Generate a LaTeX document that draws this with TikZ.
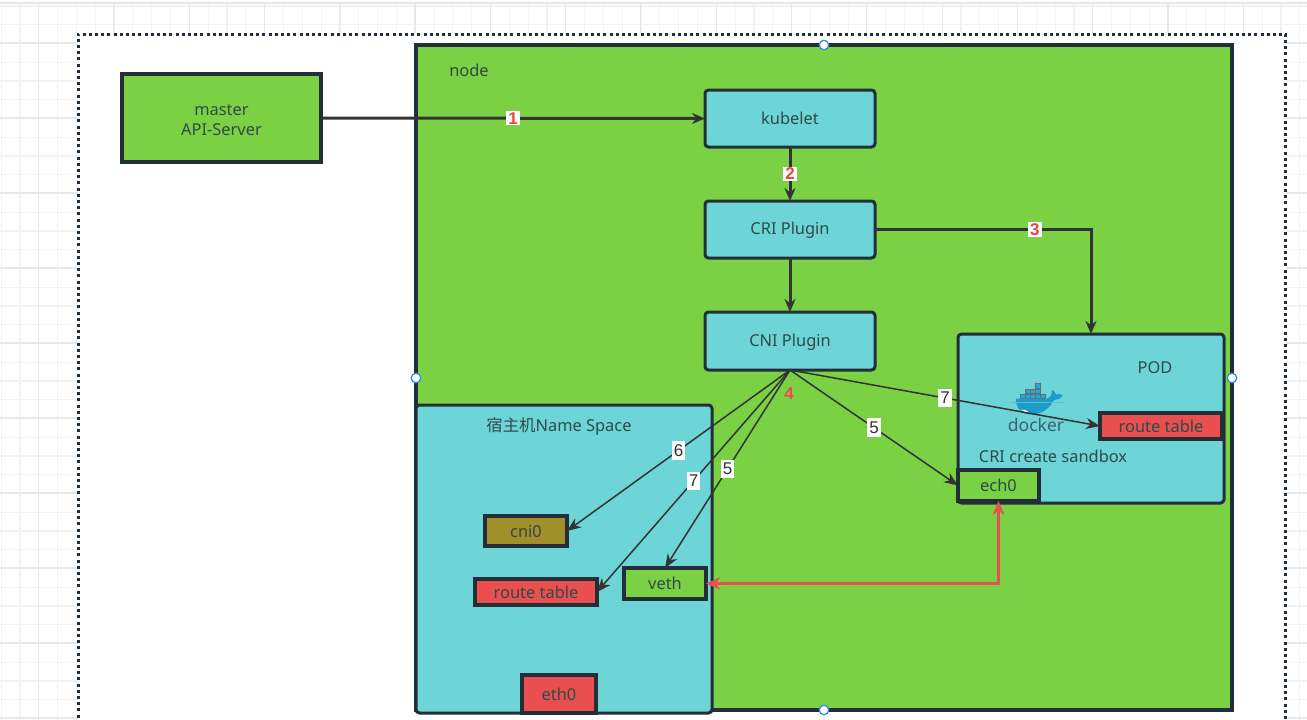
\documentclass[tikz,border=0pt]{standalone}
\usepackage{fontspec}
\setmainfont{Noto Sans}
\newfontfamily\cjk{Noto Sans CJK SC}
\newfontfamily\digitfont{Liberation Sans}
\usetikzlibrary{arrows.meta,calc}
\definecolor{leaf}{HTML}{7AD143}
\definecolor{aqua}{HTML}{6DD5D8}
\definecolor{brick}{HTML}{E94F4F}
\definecolor{olive}{HTML}{A18F2A}
\definecolor{ink}{HTML}{232F38}
\definecolor{wire}{HTML}{333333}
\definecolor{script}{HTML}{2F4A4A}
\definecolor{gridminor}{HTML}{F1F2F3}
\definecolor{gridmajor}{HTML}{E6E7E9}
\definecolor{whale}{HTML}{1D9BC9}
\definecolor{crate}{HTML}{27A9D6}
\definecolor{wordmark}{HTML}{3F5F6E}
\definecolor{handle}{HTML}{2E8BEA}
\newcommand{\firstline}{\rule[-1.5pt]{0pt}{15.5pt}}
\tikzset{
  x=1pt,y=-1pt,
  box/.style={draw=ink,line width=3.05pt,rectangle,inner sep=0pt,outer sep=0pt,
    text=script,font=\fontsize{16.4}{20}\selectfont,align=center,execute at begin node=\firstline},
  soft/.style={box,line width=3pt,rounded corners=3.5pt},
  caption/.style={inner sep=0pt,outer sep=0pt,text=script,font=\fontsize{16.4}{20}\selectfont,execute at begin node=\firstline},
  heavy/.style={draw=wire,line width=3pt,-{Stealth[length=13pt,width=11pt]}},
  fine/.style={draw=wire,line width=1.5pt,-{Stealth[length=14pt,width=11pt]}},
  redlink/.style={draw=brick,line width=3pt,{Stealth[length=14pt,width=12pt]}-{Stealth[length=14pt,width=12pt]}},
  steplabel/.style={fill=white,inner xsep=2pt,inner ysep=1pt,text=brick!85!red,font=\digitfont\fontsize{17}{17}\selectfont\bfseries},
  numlabel/.style={fill=white,inner xsep=2pt,inner ysep=3.5pt,text=black!80,font=\digitfont\fontsize{17}{17}\selectfont},
  grip/.style={circle,draw=handle,fill=white,line width=1.2pt,minimum size=9.5pt,inner sep=0pt}
}
\begin{document}
\begin{tikzpicture}
\clip (0,0) rectangle (1307,720);
\fill[white] (0,0) rectangle (1307,720);

% page grid
\foreach \i in {0,...,70}{
  \draw[gridminor,line width=1.1pt] ({1.2+18.82*\i},3) -- ({1.2+18.82*\i},720);
}
\foreach \j in {0,...,37}{
  \draw[gridminor,line width=1.1pt] (0,{6+18.75*\j}) -- (1307,{6+18.75*\j});
}
\foreach \i in {0,...,17}{
  \draw[gridmajor,line width=1.1pt] ({38.5+75.3*\i},3) -- ({38.5+75.3*\i},720);
}
\foreach \j in {0,...,9}{
  \draw[gridmajor,line width=1.1pt] (0,{43+75*\j}) -- (1307,{43+75*\j});
}
\draw[gridmajor,line width=1.2pt] (0,3) -- (1307,3);

% page frame
\fill[white] (78,34) rectangle (1285.5,730);
\draw[ink,line width=3pt,dash pattern=on 3pt off 3.2pt] (78,730) -- (78,34) -- (1285.5,34) -- (1285.5,730);

% containers
\node[box,fill=leaf,minimum width=816pt,minimum height=665pt] (nodebox) at (824,377.5) {};
\node[caption] (nodename) at (469,70.5) {node};
\node[box,fill=leaf,minimum width=199pt,minimum height=88pt] (master) at (221.5,118) {\rule{0pt}{16pt}master\\API-Server};

% components
\node[soft,fill=aqua,minimum width=170pt,minimum height=57pt] (kubelet) at (790,118.5) {kubelet};
\node[soft,fill=aqua,minimum width=170pt,minimum height=57pt] (cri) at (790,229.5) {CRI Plugin};
\node[soft,fill=aqua,minimum width=170pt,minimum height=58pt] (cnimod) at (790,341) {CNI Plugin};

% pod
\node[soft,fill=aqua,minimum width=266pt,minimum height=169pt] (pod) at (1091,418.5) {};
\node[caption] (podname) at (1155,367) {POD};
\node[caption] (sandbox) at (1053,456) {CRI create sandbox};
\node[box,fill=brick,minimum width=122pt,minimum height=26pt] (podroute) at (1161,426) {route table};
\node[box,fill=leaf,minimum width=81pt,minimum height=31pt] (ech) at (998.5,485.5) {ech0};

% container engine logo
\begin{scope}
  \foreach \cx/\cy in {1020/393.4,1025/393.4,1030/393.4,1035/393.4,1040/393.4,1025/388.4,1030/388.4,1035/388.4,1035/383}{
    \fill[crate] (\cx+0.3,\cy+0.3) rectangle (\cx+4.7,\cy+4.7);
    \draw[ink!70,line width=0.3pt] (\cx+0.3,\cy+0.3) rectangle (\cx+4.7,\cy+4.7);
  }
  \fill[whale] (1016,398.6) -- (1047,398.6) .. controls (1050,398) and (1052,395) .. (1052,390)
    .. controls (1054,391) and (1055.5,392.5) .. (1056,394.5)
    .. controls (1059,393.5) and (1061.5,394) .. (1062.5,395.5)
    .. controls (1060.5,399) and (1057,400) .. (1054,400)
    .. controls (1050,408) and (1042,414.5) .. (1031,414.5)
    .. controls (1022,414.5) and (1016,409) .. (1016,398.6) -- cycle;
  \fill[white] (1021,409.5) .. controls (1024,409) and (1027,410) .. (1029,413)
    .. controls (1026,413) and (1023,412) .. (1021,409.5) -- cycle;
  \draw[whale!70,line width=0.5pt] (1011,402) -- (1063,402);
\end{scope}
\node[inner sep=0pt,text=wordmark,font=\fontsize{17.5}{18}\selectfont] (dockerword) at (1036,424.5) {docker};

% host namespace
\node[soft,fill=aqua,minimum width=296pt,minimum height=308pt] (host) at (564,559) {};
\node[caption] (hostname) at (559,426.5) {{\cjk 宿主机}Name Space};
\node[box,fill=olive,minimum width=82pt,minimum height=30pt] (cnizero) at (526,531) {cni0};
\node[box,fill=brick,minimum width=122pt,minimum height=26pt] (hostroute) at (536,592) {route table};
\node[box,fill=leaf,minimum width=82pt,minimum height=31pt] (veth) at (665,583.5) {veth};
\node[box,fill=brick,minimum width=74pt,minimum height=38pt] (eth) at (559,694) {eth0};

% control flow
\draw[heavy] (master.east) -- node[steplabel,pos=0.5] {1} (kubelet.west);
\draw[heavy] (kubelet.south) -- node[steplabel,pos=0.5] {2} (cri.north);
\draw[heavy] (cri.south) -- (cnimod.north);
\coordinate (podentry) at (pod.north);
\draw[heavy] (cri.east) -- node[steplabel,pos=0.74] {3} (podentry |- cri.east) -- (pod.north);

% plugin fan-out
\draw[fine] (cnimod.south) -- node[numlabel] {6} (cnizero.east);
\draw[fine] (cnimod.south) -- node[numlabel] {7} (hostroute.east);
\draw[fine] (cnimod.south) -- node[numlabel] {5} (veth.north);
\draw[fine] (cnimod.south) -- node[numlabel] {5} (ech.west);
\draw[fine] (cnimod.south) -- node[numlabel] {7} (podroute.west);
\node[inner sep=0pt,text=brick,font=\digitfont\fontsize{17}{17}\selectfont\bfseries] (stepfour) at (789,393.5) {4};

% veth pair
\draw[redlink] (veth.east) -- (ech.south |- veth.east) -- (ech.south);

% selection handles
\node[grip] (gripn) at (824,45) {};
\node[grip] (gripw) at (416,378) {};
\node[grip] (gripe) at (1232,378) {};
\node[grip] (grips) at (824,710) {};
\end{tikzpicture}
\end{document}
